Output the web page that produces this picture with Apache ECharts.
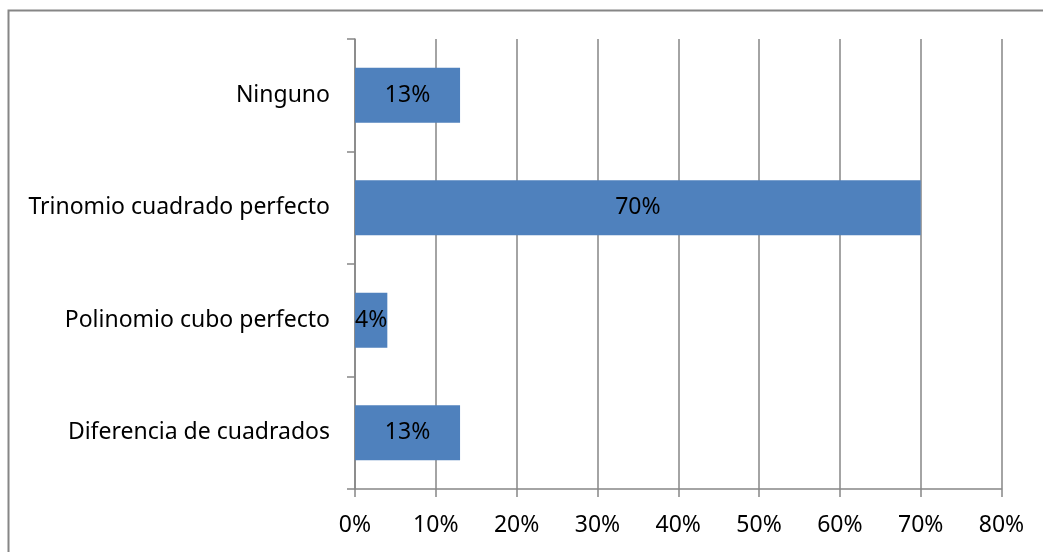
<!DOCTYPE html>
<html>
<head>
<meta charset="utf-8">
<script src="https://cdn.jsdelivr.net/npm/echarts@6/dist/echarts.min.js"></script>
<style>html,body{margin:0;padding:0;background:#fff;}#c{width:1043px;height:552px;}</style>
</head>
<body>
<div id="c"></div>
<script>
var categories = ['Diferencia de cuadrados', 'Polinomio cubo perfecto', 'Trinomio cuadrado perfecto', 'Ninguno'];
var values = [13, 4, 70, 13];
var xTicks = [0, 10, 20, 30, 40, 50, 60, 70, 80];

var FONT = 'Noto Sans';
var FS = 23;
var chart = echarts.init(document.getElementById('c'), null, {renderer: 'canvas'});
chart.setOption({
  animation: false,
  backgroundColor: '#ffffff',
  graphic: [{
    type: 'rect', left: 6, top: 8,
    shape: {x: 0, y: 0, width: 1200, height: 700},
    style: {fill: 'none', stroke: '#868686', lineWidth: 2}
  }],
  grid: {left: 355, right: 41.5, top: 39, bottom: 63, containLabel: false},
  xAxis: {
    type: 'value', min: xTicks[0], max: xTicks[xTicks.length - 1], interval: 10,
    axisLine: {show: true, lineStyle: {color: '#868686', width: 1.5}},
    axisTick: {show: true, length: 8, lineStyle: {color: '#868686', width: 1.5}},
    splitLine: {show: true, lineStyle: {color: '#868686', width: 1.5}},
    axisLabel: {formatter: '{value}%', color: '#000', fontFamily: FONT, fontSize: FS, margin: 25}
  },
  yAxis: {
    type: 'category', data: categories,
    axisLine: {show: true, lineStyle: {color: '#868686', width: 1.5}},
    axisTick: {show: true, length: 8, lineStyle: {color: '#868686', width: 1.5}},
    axisLabel: {color: '#000', fontFamily: FONT, fontSize: FS, margin: 25}
  },
  series: [{
    type: 'bar', data: values, barCategoryGap: '51%',
    itemStyle: {color: '#4F81BD'},
    label: {show: true, position: 'inside', formatter: '{c}%', color: '#000', fontFamily: FONT, fontSize: FS}
  }]
});
</script>
</body>
</html>
